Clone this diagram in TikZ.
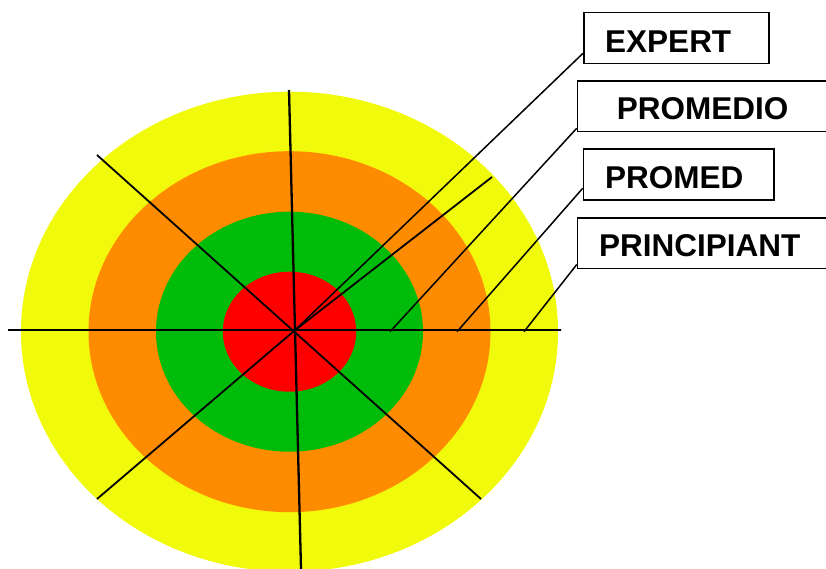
\documentclass[tikz,border=0pt]{standalone}
\usepackage{fontspec}
\setmainfont{Liberation Sans}
\definecolor{ringY}{RGB}{240,250,10}
\definecolor{ringO}{RGB}{255,140,0}
\definecolor{ringG}{RGB}{0,188,10}
\definecolor{ringR}{RGB}{255,0,0}

\begin{document}
\begin{tikzpicture}[x=1pt,y=-1pt,line width=1.8pt,font=\fontsize{31.5}{36}\selectfont\bfseries,
  box/.style={draw,line width=1.6pt,inner sep=0pt,anchor=north west},
  lbl/.style={inner sep=0pt,anchor=base west}]
\useasboundingbox (0,0) rectangle (826,569);
\clip (0,0) rectangle (826,569);
\foreach \rx/\ry/\col in {268.5/240/ringY,201/180.5/ringO,133.5/120/ringG,66.7/60/ringR}{\fill[fill=\col] (289.5,331.7) ellipse [x radius=\rx, y radius=\ry];}
\coordinate (c) at (294,331);
\coordinate (sw) at (97,499);
\coordinate (ne) at (492,177);
\draw (8,330)--(561,330) (97,155)--(481,499);
\draw (sw)--(c)--(ne);
\draw[line width=2.3pt] (289,90)--(301,569);
\node[box,minimum width=185,minimum height=51] (expert) at (583,11.7) {};
\node[box,minimum width=260,minimum height=50.7] (promedio) at (576.7,80) {};
\node[box,minimum width=190.6,minimum height=51] (promed) at (582.7,148.3) {};
\node[box,minimum width=260,minimum height=50.4] (principiant) at (576.7,217.3) {};
\node[lbl] (t1) at (604.3,52.7) {EXPERT};
\node[lbl] (t2) at (616,119.3) {PROMEDIO};
\node[lbl] (t3) at (604.3,188.3) {PROMED};
\node[lbl] (t4) at (598.3,256.7) {PRINCIPIANT};
\coordinate (p2) at (390,331.7);
\coordinate (p3) at (457,331.7);
\coordinate (p4) at (524,331.7);
\draw[line width=1.5pt] (c)--([yshift=11pt]expert.south west);
\draw[line width=1.5pt] (p2)--([yshift=4pt]promedio.south west);
\draw[line width=1.5pt] (p3)--([yshift=12.6pt]promed.south west);
\draw[line width=1.5pt] (p4)--([yshift=4.7pt]principiant.south west);
\end{tikzpicture}
\end{document}
